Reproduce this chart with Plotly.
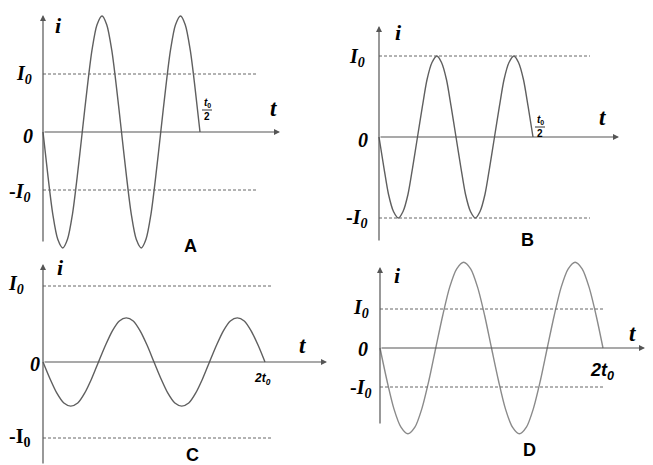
import plotly.graph_objects as go

# ─── Data: sampled points of each current curve (units: t in t0, i in I0) ────

TIME_AB = [0, 0.016, 0.031, 0.047, 0.063, 0.078, 0.094, 0.109, 0.125,
           0.141, 0.156, 0.172, 0.188, 0.203, 0.219, 0.234, 0.25,
           0.266, 0.281, 0.297, 0.313, 0.328, 0.344, 0.359, 0.375,
           0.391, 0.406, 0.422, 0.438, 0.453, 0.469, 0.484, 0.5]
TIME_CD = [0, 0.063, 0.125, 0.188, 0.25, 0.313, 0.375, 0.438, 0.5,
           0.563, 0.625, 0.688, 0.75, 0.813, 0.875, 0.938, 1.0,
           1.063, 1.125, 1.188, 1.25, 1.313, 1.375, 1.438, 1.5,
           1.563, 1.625, 1.688, 1.75, 1.813, 1.875, 1.938, 2.0]

CURRENT_A = [0, -0.77, -1.41, -1.85, -2, -1.85, -1.41, -0.77, 0,
             0.77, 1.41, 1.85, 2, 1.85, 1.41, 0.77, 0,
             -0.77, -1.41, -1.85, -2, -1.85, -1.41, -0.77, 0,
             0.77, 1.41, 1.85, 2, 1.85, 1.41, 0.77, 0]
CURRENT_B = [0, -0.38, -0.71, -0.92, -1, -0.92, -0.71, -0.38, 0,
             0.38, 0.71, 0.92, 1, 0.92, 0.71, 0.38, 0,
             -0.38, -0.71, -0.92, -1, -0.92, -0.71, -0.38, 0,
             0.38, 0.71, 0.92, 1, 0.92, 0.71, 0.38, 0]
CURRENT_C = [0, -0.22, -0.41, -0.54, -0.58, -0.54, -0.41, -0.22, 0,
             0.22, 0.41, 0.54, 0.58, 0.54, 0.41, 0.22, 0,
             -0.22, -0.41, -0.54, -0.58, -0.54, -0.41, -0.22, 0,
             0.22, 0.41, 0.54, 0.58, 0.54, 0.41, 0.22, 0]
CURRENT_D = [0, -0.84, -1.56, -2.03, -2.2, -2.03, -1.56, -0.84, 0,
             0.84, 1.56, 2.03, 2.2, 2.03, 1.56, 0.84, 0,
             -0.84, -1.56, -2.03, -2.2, -2.03, -1.56, -0.84, 0,
             0.84, 1.56, 2.03, 2.2, 2.03, 1.56, 0.84, 0]

PANEL_NAMES = ["A", "B", "C", "D"]
LEVEL_LABELS = ["<b><i>I</i><sub><i>0</i></sub></b>", "<b><i>0</i></b>",
                "<b>-<i>I</i><sub><i>0</i></sub></b>"]
END_LABELS = ["t0/2", "t0/2", "2t0", "2t0"]

# page has an 8px body margin, so the figure is 8px smaller and shifted
PAGE_W, PAGE_H, OFF = 653, 465, 8
W, H = PAGE_W - OFF, PAGE_H - OFF
SERIF = "Liberation Serif"
SANS = "Liberation Sans"

# ─── Panel geometry (page pixels) ────────────────────────────────────────────
panels = [
    dict(t=TIME_AB, i=CURRENT_A, box=(0, 0, 326, 250), ox=43, oy=132, sx=314, sy=58,
         ytop=15, ybot=243, xend=280, dend=258, color="#5f5f5f",
         lab_i=(58, 25), lab_t=(273, 108), lab_name=(190, 246),
         lab_lv=[(24, 74), (28, 136), (19, 192)], lab_end=(207, 110), end_size=10),
    dict(t=TIME_AB, i=CURRENT_B, box=(326, 0, 653, 250), ox=379, oy=137, sx=308, sy=81,
         ytop=26, ybot=242, xend=619, dend=590, color="#5f5f5f",
         lab_i=(398, 32), lab_t=(602, 117), lab_name=(527, 240),
         lab_lv=[(357, 57), (363, 140), (356, 218)], lab_end=(540, 127), end_size=10),
    dict(t=TIME_CD, i=CURRENT_C, box=(0, 250, 326, 465), ox=43, oy=362, sx=111, sy=76,
         ytop=264, ybot=465, xend=327, dend=273, color="#5f5f5f",
         lab_i=(60, 267), lab_t=(302, 345), lab_name=(192, 455),
         lab_lv=[(16, 284), (35, 364), (19, 437)], lab_end=(262, 379), end_size=12),
    dict(t=TIME_CD, i=CURRENT_D, box=(326, 250, 653, 465), ox=380, oy=348, sx=111.5, sy=39,
         ytop=267, ybot=425, xend=645, dend=603, color="#8a8a8a",
         lab_i=(397, 275), lab_t=(632, 333), lab_name=(529, 450),
         lab_lv=[(361, 308), (363, 349), (360, 388)], lab_end=(602, 371), end_size=18),
]


def to_data(p, px, py):
    return (px - p["ox"]) / p["sx"], (p["oy"] - py) / p["sy"]


fig = go.Figure()
annotations = []
shapes = []

for k, p in enumerate(panels):
    n = "" if k == 0 else str(k + 1)
    xr, yr = "x" + n, "y" + n
    bx0, by0, bx1, by1 = p["box"]
    # domain in figure coords (figure starts at page pixel OFF)
    fx0, fy0 = max(bx0 - OFF, 0), max(by0 - OFF, 0)
    fx1, fy1 = bx1 - OFF, by1 - OFF

    fig.add_trace(go.Scatter(
        x=p["t"], y=p["i"], mode="lines", xaxis=xr, yaxis=yr,
        line=dict(color=p["color"], width=1.4, shape="spline", smoothing=0.8),
        hoverinfo="skip", showlegend=False,
    ))

    fig.layout["xaxis" + n] = dict(
        domain=[fx0 / W, fx1 / W],
        range=[(fx0 + OFF - p["ox"]) / p["sx"], (fx1 + OFF - p["ox"]) / p["sx"]],
        visible=False, fixedrange=True, anchor=yr,
    )
    fig.layout["yaxis" + n] = dict(
        domain=[1 - fy1 / H, 1 - fy0 / H],
        range=[(p["oy"] - fy1 - OFF) / p["sy"], (p["oy"] - fy0 - OFF) / p["sy"]],
        visible=False, fixedrange=True, anchor=xr,
    )

    # axes with arrowheads
    _, ytop = to_data(p, p["ox"], p["ytop"])
    _, ybot = to_data(p, p["ox"], p["ybot"])
    xend, _ = to_data(p, p["xend"], p["oy"])
    arrow = dict(text="", showarrow=True, arrowhead=2, arrowsize=1, arrowwidth=1.2,
                 arrowcolor="#555555", xref=xr, yref=yr, axref=xr, ayref=yr, standoff=0)
    annotations.append(dict(arrow, x=0, y=ytop, ax=0, ay=ybot))
    annotations.append(dict(arrow, x=xend, y=0, ax=0, ay=0))

    # dashed ±I0 levels
    dend, _ = to_data(p, p["dend"], p["oy"])
    for lvl in (1, -1):
        shapes.append(dict(type="line", xref=xr, yref=yr, x0=0, x1=dend, y0=lvl, y1=lvl,
                           line=dict(color="#666666", width=1, dash="3px,2px")))

    def label(pos, text, size, family=SERIF, color="black"):
        x, y = to_data(p, *pos)
        annotations.append(dict(x=x, y=y, xref=xr, yref=yr, text=text, showarrow=False,
                                xanchor="center", yanchor="middle",
                                font=dict(family=family, size=size, color=color)))

    label(p["lab_i"], "<b><i>i</i></b>", 22)
    label(p["lab_t"], "<b><i>t</i></b>", 23)
    label(p["lab_name"], "<b>%s</b>" % PANEL_NAMES[k], 18, family=SANS)
    for pos, txt in zip(p["lab_lv"], LEVEL_LABELS):
        if k == 2 and txt.startswith("<b>-"):
            txt = "<b>-I<sub>0</sub></b>"
        label(pos, txt, 20)

    ex, ey = p["lab_end"]
    if END_LABELS[k] == "t0/2":
        label((ex, ey - 7), "<b><i>t</i><sub>0</sub></b>", p["end_size"], family=SANS)
        label((ex, ey + 6), "<b>2</b>", p["end_size"], family=SANS)
        x0, y0 = to_data(p, ex - 5, ey)
        x1, _ = to_data(p, ex + 5, ey)
        shapes.append(dict(type="line", xref=xr, yref=yr, x0=x0, x1=x1, y0=y0, y1=y0,
                           line=dict(color="#333333", width=1)))
    else:
        label((ex, ey), "<b><i>2t</i><sub><i>0</i></sub></b>", p["end_size"], family=SANS)

fig.update_layout(
    width=W, height=H,
    margin=dict(l=0, r=0, t=0, b=0),
    paper_bgcolor="white", plot_bgcolor="white",
    annotations=annotations, shapes=shapes,
    showlegend=False,
)

fig.write_html("out.html")
